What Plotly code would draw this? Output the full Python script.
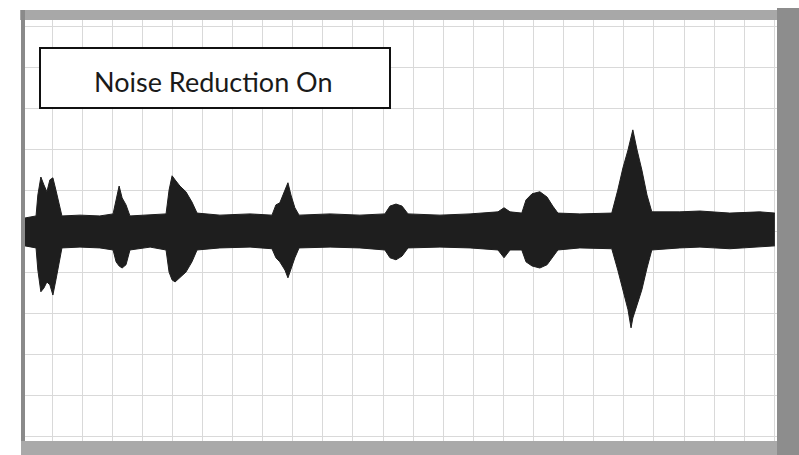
import plotly.graph_objects as go

# Time axis in grid divisions, amplitude in grid divisions
time_div = [
    -0.90, -0.53, -0.47, -0.37, -0.27, -0.17, -0.07, 0.03, 0.13, 0.23, 0.33,
    0.93, 1.59, 2.03, 2.13, 2.23, 2.33, 2.46, 2.59,
    3.26, 3.79, 3.89, 3.99, 4.09, 4.25, 4.45, 4.65, 4.82,
    5.58, 6.58, 7.31, 7.44, 7.57, 7.74, 7.84, 7.94, 8.07, 8.21,
    9.24, 10.23, 11.06, 11.23, 11.43, 11.63, 11.83,
    12.89, 13.89, 14.82, 15.02, 15.22, 15.61, 15.75, 15.95, 16.21, 16.45, 16.64, 16.81,
    17.54, 18.60, 18.80, 18.97, 19.14, 19.24, 19.30, 19.44, 19.60, 19.77, 19.93,
    20.86, 21.53, 22.52, 23.52, 24.02,
]
upper_env = [
    0.34, 0.39, 0.90, 1.34, 1.15, 0.98, 1.27, 1.32, 1.02, 0.66, 0.39,
    0.41, 0.39, 0.44, 0.78, 1.12, 0.83, 0.66, 0.39,
    0.41, 0.44, 1.02, 1.37, 1.27, 1.12, 0.98, 0.73, 0.46,
    0.41, 0.44, 0.41, 0.66, 0.71, 1.02, 1.20, 0.90, 0.59, 0.41,
    0.44, 0.41, 0.44, 0.63, 0.68, 0.63, 0.44,
    0.41, 0.44, 0.49, 0.59, 0.49, 0.46, 0.78, 0.93, 0.98, 0.85, 0.63, 0.46,
    0.44, 0.46, 1.02, 1.56, 2.00, 2.29, 2.49, 2.00, 1.51, 0.90, 0.49,
    0.49, 0.51, 0.46, 0.49, 0.46,
]
lower_env = [
    -0.34, -0.39, -0.93, -1.46, -1.37, -1.22, -1.29, -1.54, -1.17, -0.73, -0.39,
    -0.37, -0.39, -0.44, -0.73, -0.83, -0.88, -0.80, -0.44,
    -0.37, -0.44, -0.98, -1.17, -1.22, -1.12, -0.98, -0.73, -0.44,
    -0.39, -0.37, -0.41, -0.63, -0.73, -0.93, -1.12, -0.88, -0.63, -0.39,
    -0.37, -0.39, -0.44, -0.63, -0.68, -0.59, -0.39,
    -0.37, -0.39, -0.44, -0.63, -0.44, -0.44, -0.73, -0.83, -0.88, -0.80, -0.61, -0.44,
    -0.39, -0.41, -0.93, -1.41, -1.90, -2.34, -2.10, -1.78, -1.41, -0.88, -0.44,
    -0.39, -0.37, -0.41, -0.37, -0.34,
]
label_text = "Noise Reduction On"

wave_color = "#1e1e1e"

fig = go.Figure()
fig.add_trace(go.Scatter(
    x=time_div, y=lower_env, mode="lines",
    line=dict(color=wave_color, width=1), hoverinfo="skip", showlegend=False,
))
fig.add_trace(go.Scatter(
    x=time_div, y=upper_env, mode="lines", fill="tonexty",
    fillcolor=wave_color, line=dict(color=wave_color, width=1),
    hoverinfo="skip", showlegend=False,
))

W, H = 799, 455
ml, mr, mt, mb = 25, 22, 20, 14
pw, ph = W - ml - mr, H - mt - mb

def px(x):
    return (x - ml) / pw

def py(y):
    return (H - mb - y) / ph

shapes = []
# scanned frame bands
shapes.append(dict(type="rect", xref="paper", yref="paper", x0=px(20), x1=px(777),
                   y0=py(20), y1=py(10), fillcolor="#a8a8a8", line=dict(width=0), layer="above"))
shapes.append(dict(type="rect", xref="paper", yref="paper", x0=px(21), x1=px(25),
                   y0=py(443), y1=py(10), fillcolor="#8a8a8a", line=dict(width=0), layer="above"))
shapes.append(dict(type="rect", xref="paper", yref="paper", x0=px(777), x1=px(799),
                   y0=py(455), y1=py(8), fillcolor="#8d8d8d", line=dict(width=0), layer="above"))
shapes.append(dict(type="rect", xref="paper", yref="paper", x0=px(21), x1=px(777),
                   y0=py(455), y1=py(441), fillcolor="#a9a9a9", line=dict(width=0), layer="above"))
# label box
shapes.append(dict(type="rect", xref="paper", yref="paper", x0=px(40), x1=px(390),
                   y0=py(108), y1=py(48), fillcolor="white", line=dict(color="#111111", width=2),
                   layer="above"))

fig.update_layout(
    width=W, height=H,
    margin=dict(l=ml, r=mr, t=mt, b=mb),
    paper_bgcolor="white", plot_bgcolor="white",
    shapes=shapes,
    annotations=[dict(text=label_text, xref="paper", yref="paper", x=px(213), y=py(81),
                      showarrow=False, xanchor="center", yanchor="middle",
                      font=dict(family="Lato", size=27, color="#1a1a1a"))],
    xaxis=dict(range=[-0.897, 24.09], dtick=1, tick0=0, showticklabels=False, ticks="",
               showgrid=True, gridcolor="#d9d9d9", gridwidth=1, zeroline=False, showline=False),
    yaxis=dict(range=[-5.10, 5.17], dtick=1, tick0=0, showticklabels=False, ticks="",
               showgrid=True, gridcolor="#d9d9d9", gridwidth=1, zeroline=False, showline=False),
)

fig.write_html("out.html")
